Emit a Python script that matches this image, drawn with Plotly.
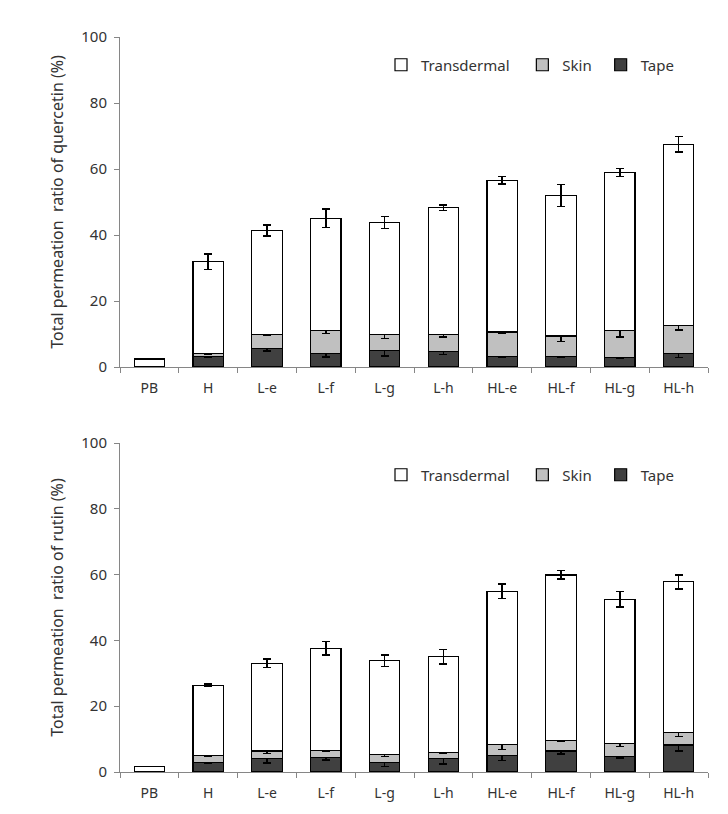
import plotly.graph_objects as go

categories = ["PB", "H", "L-e", "L-f", "L-g", "L-h", "HL-e", "HL-f", "HL-g", "HL-h"]

# Quercetin (top panel)
q_tape = [0.0, 3.3, 5.7, 4.1, 4.9, 4.8, 3.3, 3.3, 2.9, 4.1]
q_tape_err = [0.0, 0.2, 0.8, 1.1, 1.5, 1.0, 0.2, 0.3, 0.3, 1.2]
q_skin_top = [0.0, 4.1, 9.9, 11.1, 9.9, 9.9, 10.6, 9.4, 11.0, 12.6]
q_skin_err = [0.0, 0.1, 0.3, 1.0, 1.3, 0.8, 0.3, 1.7, 1.9, 1.4]
q_total = [2.4, 31.9, 41.4, 45.1, 43.8, 48.3, 56.6, 52.0, 58.9, 67.5]
q_total_err = [0.0, 2.3, 1.7, 2.8, 1.8, 0.8, 1.2, 3.3, 1.2, 2.3]

# Rutin (bottom panel)
r_tape = [0.0, 2.8, 4.2, 4.5, 3.0, 4.0, 5.0, 6.4, 4.6, 8.2]
r_tape_err = [0.0, 0.2, 1.4, 0.9, 1.4, 1.6, 1.5, 1.0, 0.3, 1.8]
r_skin_top = [0.0, 4.9, 6.4, 6.6, 5.4, 5.9, 8.3, 9.6, 8.7, 12.1]
r_skin_err = [0.0, 0.2, 0.7, 0.3, 0.7, 0.3, 1.5, 0.3, 1.0, 1.3]
r_total = [1.7, 26.4, 33.0, 37.6, 33.8, 35.0, 54.9, 59.9, 52.5, 57.8]
r_total_err = [0.0, 0.3, 1.3, 2.1, 1.8, 2.2, 2.2, 1.3, 2.4, 2.1]

series_names = ["Transdermal", "Skin", "Tape"]
colors = {"Transdermal": "#ffffff", "Skin": "#c0c0c0", "Tape": "#404040"}

W, H = 728, 814
OFF = 8  # page body margin
FONT = "Noto Sans"
TXT = "#333333"

fig = go.Figure()


def diff(a, b):
    return [round(x - y, 3) for x, y in zip(a, b)]


def add_panel(tape, tape_err, skin_top, skin_err, total, total_err, xa, ya, legend):
    parts = [
        ("Tape", tape, tape_err),
        ("Skin", diff(skin_top, tape), skin_err),
        ("Transdermal", diff(total, skin_top), total_err),
    ]
    pad = {"Transdermal": "\u00a0" * 2, "Skin": "\u00a0", "Tape": ""}
    for name, vals, errs in parts:
        fig.add_trace(go.Bar(
            x=categories, y=vals, name=name + pad[name],
            marker=dict(color=colors[name], line=dict(color="#000000", width=1.2)),
            error_y=dict(type="data", array=errs, visible=True, color="#000000",
                         thickness=1.5, width=4),
            xaxis=xa, yaxis=ya, legend=legend, showlegend=True,
        ))


add_panel(q_tape, q_tape_err, q_skin_top, q_skin_err, q_total, q_total_err, "x", "y", "legend")
add_panel(r_tape, r_tape_err, r_skin_top, r_skin_err, r_total, r_total_err, "x2", "y2", "legend2")


def px_x(p):
    return (p - OFF) / W


def px_y(p):
    return 1 - (p - OFF) / H


xdom = [px_x(120), px_x(708)]
top_dom = [px_y(367), px_y(37)]
bot_dom = [px_y(772), px_y(443)]

axis_common_x = dict(
    showline=True, linecolor="#868686", linewidth=1, ticks="outside", ticklen=5,
    tickcolor="#868686", tickson="boundaries", showgrid=False, zeroline=False,
    tickfont=dict(family=FONT, size=14, color=TXT), automargin=False,
    ticklabelstandoff=8,
)
axis_common_y = dict(
    range=[0, 100], dtick=20, showline=True, linecolor="#868686", linewidth=1,
    ticks="outside", ticklen=5, tickcolor="#868686", showgrid=False, zeroline=False,
    tickfont=dict(family=FONT, size=15, color=TXT), automargin=False,
    ticklabelstandoff=4,
)

legend_common = dict(
    orientation="h", xanchor="left", yanchor="middle", bgcolor="rgba(0,0,0,0)",
    font=dict(family=FONT, size=15, color=TXT), traceorder="reversed",
    itemwidth=30, tracegroupgap=0,
)

fig.update_layout(
    width=W, height=H,
    margin=dict(l=0, r=0, t=0, b=0, autoexpand=False),
    paper_bgcolor="#ffffff", plot_bgcolor="#ffffff",
    barmode="stack", bargap=0.48,
    showlegend=True,
    xaxis=dict(domain=xdom, anchor="y", **axis_common_x),
    yaxis=dict(domain=top_dom, anchor="x",
               title=dict(text="Total permeation  ratio of quercetin (%)",
                          font=dict(family=FONT, size=16, color=TXT), standoff=13),
               **axis_common_y),
    xaxis2=dict(domain=xdom, anchor="y2", **axis_common_x),
    yaxis2=dict(domain=bot_dom, anchor="x2",
                title=dict(text="Total permeation  ratio of rutin (%)",
                           font=dict(family=FONT, size=16, color=TXT), standoff=13),
                **axis_common_y),
    legend=dict(x=px_x(381), y=px_y(65), **legend_common),
    legend2=dict(x=px_x(381), y=px_y(475), **legend_common),
)

fig.write_html("out.html")
